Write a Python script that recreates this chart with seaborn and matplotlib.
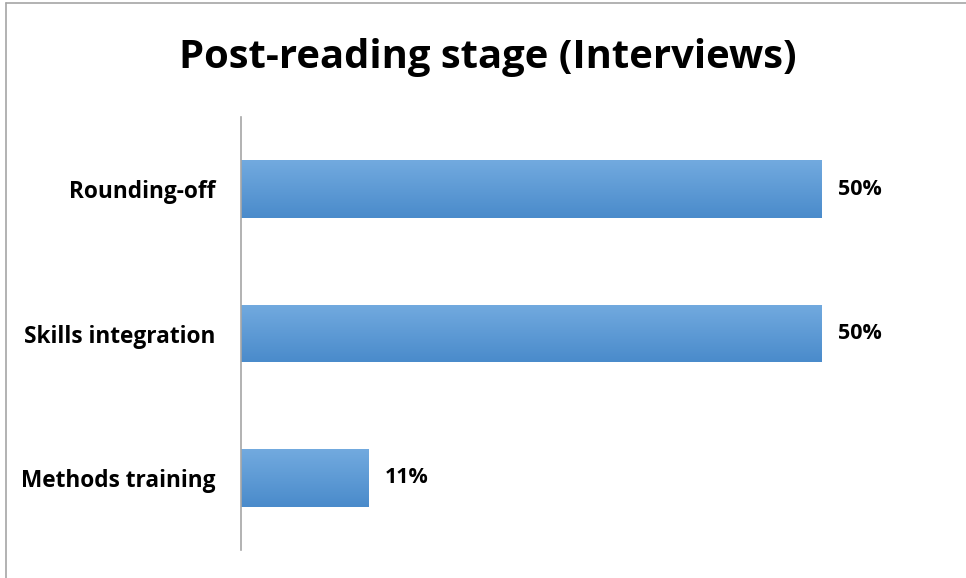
import numpy as np
import pandas as pd
import seaborn as sns
import matplotlib.pyplot as plt
from matplotlib.colors import LinearSegmentedColormap
from matplotlib.lines import Line2D

categories = ["Rounding-off", "Skills integration", "Methods training"]
values = [50, 50, 11]
labels = ["50%", "50%", "11%"]

df = pd.DataFrame({"Stage": categories, "Percent": values})

sns.set_style("white")
plt.rcParams["font.family"] = ["Open Sans", "DejaVu Sans"]
plt.rcParams["text.color"] = "black"
plt.rcParams["ytick.color"] = "black"

fig = plt.figure(figsize=(9.66, 5.78), dpi=100)
ax = fig.add_axes([0.2495, 0.0484, 0.7215, 0.7492])

sns.barplot(data=df, x="Percent", y="Stage", orient="h", color="#5b9bd5",
            width=0.4, ax=ax)

# vertical gradient on each bar, lighter at top
cmap = LinearSegmentedColormap.from_list("bar", ["#72aadf", "#4a8bcb"])
grad = np.linspace(0, 1, 100).reshape(-1, 1)
for p in ax.patches:
    x0, y0 = p.get_x(), p.get_y()
    w, h = p.get_width(), p.get_height()
    im = ax.imshow(grad, cmap=cmap, aspect="auto",
                   extent=(x0, x0 + w, y0 + h, y0), zorder=p.get_zorder() + 0.1)
    im.set_clip_path(p)

for i, (v, lab) in enumerate(zip(values, labels)):
    ax.text(v + 1.4, i, lab, va="center", ha="left", fontsize=15.5,
            fontweight="bold", color="black")

ax.set_xlim(0, 60)
ax.set_ylim(2.5, -0.5)
ax.set_xlabel("")
ax.set_ylabel("")
ax.set_xticks([])
ax.tick_params(axis="y", length=0, pad=18.5, labelsize=16.3)
for t in ax.get_yticklabels():
    t.set_fontweight("bold")
for s in ["top", "right", "bottom"]:
    ax.spines[s].set_visible(False)
ax.spines["left"].set_color("#a6a6a6")
ax.spines["left"].set_linewidth(1.2)

fig.text(0.5047, 0.9, "Post-reading stage (Interviews)", ha="center", va="center",
         fontsize=28.8, fontweight="bold")

# chart frame (partially cropped in the reference)
fig.add_artist(Line2D([6 / 966, 1], [1 - 3 / 578, 1 - 3 / 578],
                      transform=fig.transFigure, color="#a6a6a6", lw=1.2))
fig.add_artist(Line2D([6 / 966, 6 / 966], [0, 1 - 3 / 578],
                      transform=fig.transFigure, color="#a6a6a6", lw=1.2))

fig.savefig("out.png", dpi=100)
